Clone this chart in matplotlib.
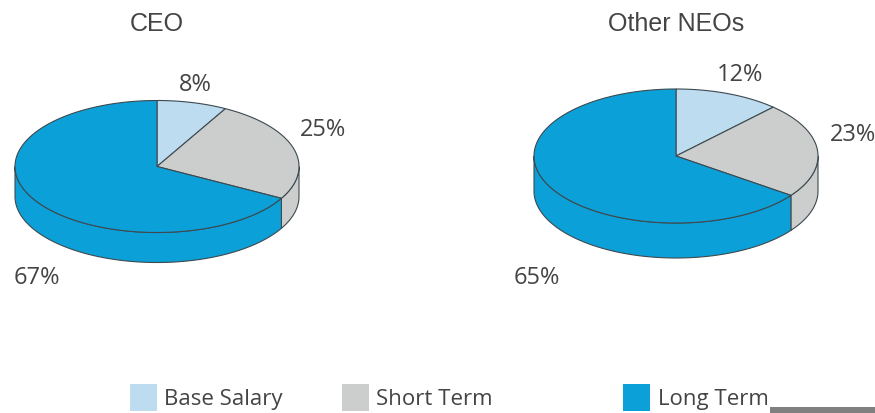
import numpy as np
import matplotlib
matplotlib.use('Agg')
from matplotlib import pyplot as plt
from matplotlib.patches import Polygon, Rectangle

categories = ['Base Salary', 'Short Term', 'Long Term']
ceo_values = [8, 25, 67]
neo_values = [12, 23, 65]
ceo_title = 'CEO'
neo_title = 'Other NEOs'

COLORS = ['#BEDCF0', '#CCCDCD', '#0CA0D8']
EDGE = '#3C4A50'
TEXT = '#444444'
LABEL_FONT = 'Open Sans'
TITLE_FONT = 'Liberation Sans'


def rim(cx, cy, rx, ry, start, end):
    # angles are clockwise from 12 o'clock, y axis points down
    t = np.radians(np.linspace(start, end, 200))
    return np.column_stack([cx + rx * np.sin(t), cy - ry * np.cos(t)])


def draw_pie(ax, values, cx, cy, rx, ry, depth):
    edges = np.cumsum([0] + values) * 360.0 / sum(values)

    # side wall first, only the front half (90..270) can be seen
    for i in range(len(values)):
        start = max(edges[i], 90)
        end = min(edges[i + 1], 270)
        if start >= end:
            continue
        top = rim(cx, cy, rx, ry, start, end)
        bottom = top[::-1] + [0, depth]
        ax.add_patch(Polygon(np.vstack([top, bottom]), closed=True,
                             fc=COLORS[i], ec=EDGE, lw=0.8))

    # top face
    for i in range(len(values)):
        arc = rim(cx, cy, rx, ry, edges[i], edges[i + 1])
        ax.add_patch(Polygon(np.vstack([[cx, cy], arc]), closed=True,
                             fc=COLORS[i], ec=EDGE, lw=0.8))


fig = plt.figure(figsize=(8.75, 4.14), dpi=100)
ax = fig.add_axes([0, 0, 1, 1])
ax.set_xlim(0, 875)
ax.set_ylim(414, 0)
ax.axis('off')

draw_pie(ax, ceo_values, 157, 167.5, 142, 66, 30)
draw_pie(ax, neo_values, 676, 157, 142, 67, 35)

# titles
ax.text(157, 24, ceo_title, ha='center', va='center', fontsize=18,
        color=TEXT, family=TITLE_FONT)
ax.text(676, 24, neo_title, ha='center', va='center', fontsize=18,
        color=TEXT, family=TITLE_FONT)

# percent labels
ceo_pos = [(195, 85), (323, 130), (37, 278)]
neo_pos = [(740, 75), (853, 135), (537, 278)]
for values, positions in ((ceo_values, ceo_pos), (neo_values, neo_pos)):
    for v, (x, y) in zip(values, positions):
        ax.text(x, y, '%d%%' % v, ha='center', va='center', fontsize=17,
                color=TEXT, family=LABEL_FONT, clip_on=False)

# legend, spacing is uneven so it is placed by hand
swatch_x = [130, 342, 623]
text_x = [164, 376, 658]
for name, color, sx, tx in zip(categories, COLORS, swatch_x, text_x):
    ax.add_patch(Rectangle((sx, 385), 27, 27, fc=color, ec='none'))
    ax.text(tx, 400, name, ha='left', va='center', fontsize=16,
            color=TEXT, family=LABEL_FONT)

# grey bar cut off in the bottom right corner
ax.add_patch(Rectangle((770, 408), 105, 6, fc='#808080', ec='none'))

fig.savefig('out.png', dpi=100)
